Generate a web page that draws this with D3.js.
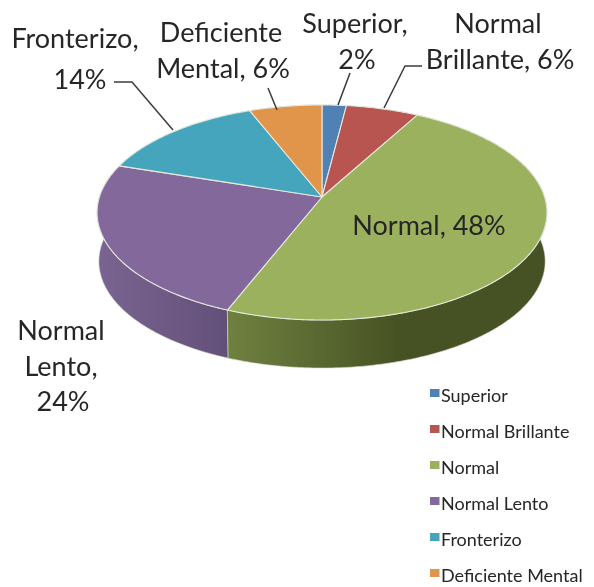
<!DOCTYPE html>
<html>
<head>
<meta charset="utf-8">
<script src="https://cdn.jsdelivr.net/npm/d3@7"></script>
<style>
  html, body { margin: 0; padding: 0; background: #fff; }
  svg { display: block; filter: blur(0.45px); }
  text { font-family: Lato, "Open Sans", sans-serif; fill: #262626; }
</style>
</head>
<body>
<svg id="chart" width="594" height="587"></svg>
<script>
// Data
const categories = ["Superior", "Normal Brillante", "Normal", "Normal Lento", "Fronterizo", "Deficiente Mental"];
const percents = [2, 6, 48, 24, 14, 6];
const colors = ["#4f81b5", "#b95550", "#9bb15d", "#83699b", "#45a5bc", "#e0954b"];
const sideLight = ["#456f9c", "#9c4744", "#6f8140", "#7a6491", "#3a8ba0", "#bd7d3f"];
const sideDark = ["#2c4766", "#652e2c", "#465223", "#63507a", "#255a68", "#7b5229"];

const svg = d3.select("#chart");
const defs = svg.append("defs");

// Pie geometry: a tilted disk seen in perspective
const cx = 322, cy = 197;
const radiusX = 222.6, radiusY = 105.3, tilt = 0.144;
const depth = 49, bottomScale = 0.992;

const project = (angle, scale = 1, drop = 0) => {
  const u = Math.sin(angle), v = -Math.cos(angle);
  const w = 1 - tilt * v;
  return [cx + scale * radiusX * u / w, cy + drop + scale * radiusY * v / w];
};

const line = d3.line();
const arcPoints = (a0, a1, scale, drop) => {
  const n = Math.max(2, Math.ceil((a1 - a0) / 0.01));
  return d3.range(n + 1).map(i => project(a0 + (a1 - a0) * i / n, scale, drop));
};

const slices = d3.pie().sort(null).value(d => d)(percents);

// Side wall of the pie, back slices first
const sideOrder = [4, 5, 0, 1, 3, 2];
sideOrder.forEach(i => {
  const s = slices[i];
  const top = arcPoints(s.startAngle, s.endAngle, 1, 0);
  const bottom = arcPoints(s.startAngle, s.endAngle, bottomScale, depth).reverse();
  const xs = top.concat(bottom).map(p => p[0]);
  const grad = defs.append("linearGradient")
    .attr("id", "side" + i)
    .attr("gradientUnits", "userSpaceOnUse")
    .attr("x1", i === 2 ? 228 : d3.min(xs)).attr("y1", 0)
    .attr("x2", i === 2 ? 400 : d3.max(xs)).attr("y2", 0);
  grad.append("stop").attr("offset", 0).attr("stop-color", sideLight[i]);
  grad.append("stop").attr("offset", 1).attr("stop-color", sideDark[i]);
  svg.append("path")
    .attr("d", line(top.concat(bottom)) + "Z")
    .attr("fill", `url(#side${i})`)
    .attr("stroke", "#d9dccf")
    .attr("stroke-width", 0.6);
});

// Top face of the pie
slices.forEach((s, i) => {
  const pts = [project(0, 0, 0)].concat(arcPoints(s.startAngle, s.endAngle, 1, 0));
  svg.append("path")
    .attr("d", line(pts) + "Z")
    .attr("fill", colors[i])
    .attr("stroke", "#e4e8dc")
    .attr("stroke-width", 1.1)
    .attr("stroke-linejoin", "round");
});

// Leader lines
const leaders = [
  [[114, 82], [132, 82], [173, 130]],
  [[268, 88], [277, 110]],
  [[350, 73], [338, 105]],
  [[422, 66], [405, 66], [384, 108]]
];
leaders.forEach(pts => {
  svg.append("path")
    .attr("d", line(pts))
    .attr("fill", "none")
    .attr("stroke", "#3c3c3c")
    .attr("stroke-width", 1.5);
});

// Data labels
const labels = [
  { lines: ["Fronterizo,", "14%"], x: [75, 80], y: [48, 89] },
  { lines: ["Deficiente", "Mental, 6%"], x: [221, 223], y: [42, 78] },
  { lines: ["Superior,", "2%"], x: [355, 357], y: [33, 69] },
  { lines: ["Normal", "Brillante, 6%"], x: [498, 500], y: [33, 69] },
  { lines: ["Normal, 48%"], x: [429], y: [235] },
  { lines: ["Normal", "Lento,", "24%"], x: [61, 61, 63], y: [340, 376, 411] }
];
labels.forEach(l => {
  l.lines.forEach((t, i) => {
    svg.append("text")
      .attr("x", l.x[i]).attr("y", l.y[i])
      .attr("text-anchor", "middle")
      .attr("font-size", 27)
      .text(t);
  });
});

// Legend
const legendY = d3.scalePoint().domain(categories).range([402, 582]);
categories.forEach((c, i) => {
  svg.append("rect")
    .attr("x", 430).attr("y", legendY(c) - 13)
    .attr("width", 9.5).attr("height", 8)
    .attr("fill", colors[i]);
  svg.append("text")
    .attr("x", 441).attr("y", legendY(c))
    .attr("font-size", 18)
    .text(c);
});
</script>
</body>
</html>
